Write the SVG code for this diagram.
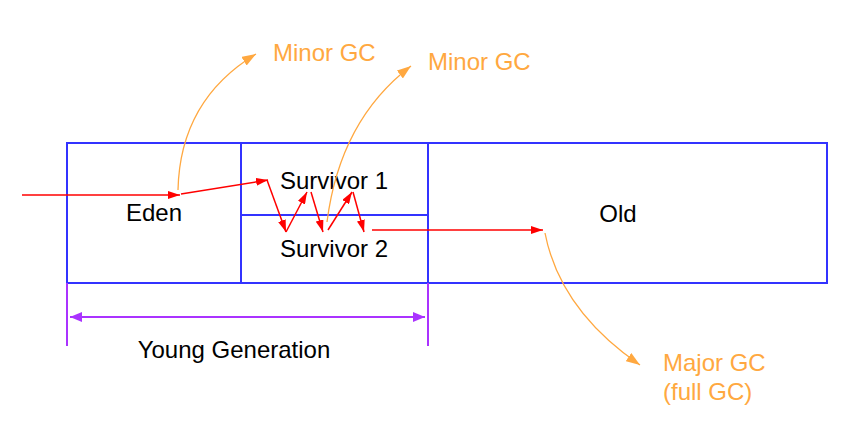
<svg xmlns="http://www.w3.org/2000/svg" width="846" height="430" viewBox="0 0 846 430">
<defs>
<style>
.box{fill:none;stroke:#3333ff;stroke-width:2}
.t{font-family:"Liberation Sans",Arial,sans-serif;font-size:24px;fill:#000}
.o{fill:#ffa840}
.red{fill:none;stroke:#ff0000;stroke-width:1.5}
.org{fill:none;stroke:#ffa840;stroke-width:1.3}
.pur{fill:none;stroke:#aa33ff;stroke-width:2}
</style>
<marker id="ar" viewBox="0 0 12 8" refX="12" refY="4" markerWidth="12" markerHeight="8" markerUnits="userSpaceOnUse" orient="auto"><path d="M0,0L12,4L0,8z" fill="#ff0000"/></marker>
<marker id="ao" viewBox="0 0 14 10" refX="14" refY="5" markerWidth="14" markerHeight="10" markerUnits="userSpaceOnUse" orient="auto"><path d="M0,0L14,5L0,10z" fill="#ffa840"/></marker>
<marker id="ap" viewBox="0 0 12 10" refX="12" refY="5" markerWidth="12" markerHeight="10" markerUnits="userSpaceOnUse" orient="auto"><path d="M0,0L12,5L0,10z" fill="#aa33ff"/></marker>
</defs>
<g id="eden"><rect class="box" x="67" y="143" width="174" height="140"/><text class="t" x="154" y="221" text-anchor="middle">Eden</text></g>
<g id="survivor1"><rect class="box" x="241" y="143" width="187" height="72"/><text class="t" x="334" y="189" text-anchor="middle">Survivor 1</text></g>
<g id="survivor2"><rect class="box" x="241" y="215" width="187" height="68"/><text class="t" x="334" y="257" text-anchor="middle">Survivor 2</text></g>
<g id="old"><rect class="box" x="428" y="143" width="399" height="140"/><text class="t" x="618" y="222" text-anchor="middle">Old</text></g>
<g id="young"><text class="t" x="234" y="358" text-anchor="middle">Young Generation</text></g>
<g id="minor1"><text class="t o" x="273" y="61">Minor GC</text></g>
<g id="minor2"><text class="t o" x="428" y="70">Minor GC</text></g>
<g id="major"><text class="t o" x="663" y="371">Major GC</text><text class="t o" x="663" y="400">(full GC)</text></g>
<g id="connectors">
<path class="red" d="M22,195H180" marker-end="url(#ar)"/>
<path class="red" d="M181,194L268,180" marker-end="url(#ar)"/>
<path class="red" d="M267,180L286,232" marker-end="url(#ar)"/>
<path class="red" d="M286,232L307,192" marker-end="url(#ar)"/>
<path class="red" d="M311,192L323,232" marker-end="url(#ar)"/>
<path class="red" d="M328,230L352,192" marker-end="url(#ar)"/>
<path class="red" d="M353,192L364,232" marker-end="url(#ar)"/>
<path class="red" d="M372,230H543" marker-end="url(#ar)"/>
<path class="org" d="M178,190Q180,100 256,54" marker-end="url(#ao)"/>
<path class="org" d="M327,222Q340,120 411,66" marker-end="url(#ao)"/>
<path class="org" d="M545,233Q560,310 640,365" marker-end="url(#ao)"/>
<path class="pur" d="M67,283V346M428,283V346"/>
<path class="pur" d="M82,317H413" />
<path class="pur" d="M90,317H70" marker-end="url(#ap)"/>
<path class="pur" d="M405,317H425" marker-end="url(#ap)"/>
</g>
</svg>
